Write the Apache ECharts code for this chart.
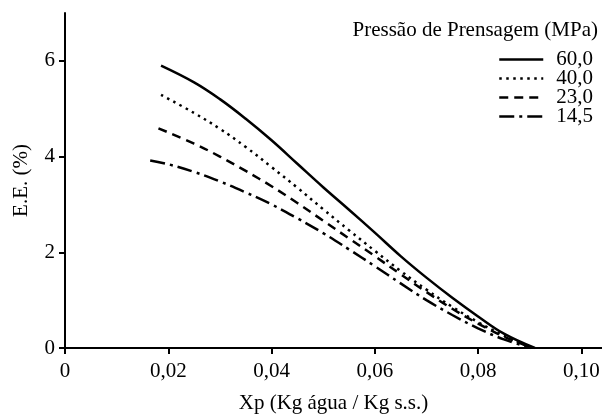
<!DOCTYPE html>
<html>
<head>
<meta charset="utf-8">
<script src="https://cdn.jsdelivr.net/npm/echarts@6/dist/echarts.min.js"></script>
<style>
  html, body { margin: 0; padding: 0; background: #fff; }
  #chart { width: 602px; height: 414px; }
</style>
</head>
<body>
<div id="chart"></div>
<script>
// Pressão de Prensagem series, [Xp, E.E.]
const p60 = [[0.0186, 5.90], [0.025, 5.55], [0.030, 5.20], [0.035, 4.79], [0.040, 4.34],
  [0.045, 3.85], [0.050, 3.36], [0.055, 2.89], [0.060, 2.41], [0.065, 1.92], [0.070, 1.47],
  [0.075, 1.05], [0.080, 0.66], [0.085, 0.30], [0.0910, 0.0]];
const p40 = [[0.0186, 5.29], [0.025, 4.91], [0.030, 4.58], [0.035, 4.20], [0.040, 3.78],
  [0.045, 3.35], [0.050, 2.90], [0.055, 2.46], [0.060, 2.03], [0.065, 1.61], [0.070, 1.22],
  [0.075, 0.86], [0.080, 0.54], [0.085, 0.26], [0.0906, 0.0]];
const p23 = [[0.0181, 4.59], [0.025, 4.27], [0.030, 4.00], [0.035, 3.70], [0.040, 3.38],
  [0.045, 3.03], [0.050, 2.66], [0.055, 2.29], [0.060, 1.92], [0.065, 1.54], [0.070, 1.17],
  [0.075, 0.82], [0.080, 0.51], [0.085, 0.24], [0.0905, 0.0]];
const p14 = [[0.0165, 3.92], [0.020, 3.84], [0.025, 3.68], [0.030, 3.48], [0.035, 3.25],
  [0.040, 3.00], [0.045, 2.71], [0.050, 2.40], [0.055, 2.06], [0.060, 1.71], [0.065, 1.35],
  [0.070, 1.00], [0.075, 0.69], [0.080, 0.41], [0.085, 0.18], [0.0903, 0.0]];

const seriesNames = ["60,0", "40,0", "23,0", "14,5"];
const xTicks = [0, 0.02, 0.04, 0.06, 0.08, 0.10];
const yTicks = [0, 2, 4, 6];

const FONT = "'Liberation Serif', 'Times New Roman', serif";
const INK = "#000";
const FS = 21;

const chart = echarts.init(document.getElementById("chart"));

const lineStyles = [
  { width: 2.5, type: "solid" },
  { width: 2.5, type: [2.5, 4.5] },
  { width: 2.5, type: [9, 6] },
  { width: 2.5, type: [15, 5, 3, 5] },
];

const series = [p60, p40, p23, p14].map((d, i) => ({
  name: seriesNames[i],
  type: "line",
  data: d,
  smooth: 0.4,
  showSymbol: false,
  symbol: "none",
  lineStyle: { color: INK, ...lineStyles[i] },
  itemStyle: { color: INK },
}));

chart.setOption({
  animation: false,
  textStyle: { fontFamily: FONT, color: INK },
  title: {
    text: "Pressão de Prensagem (MPa)",
    right: 4,
    top: 20,
    padding: 0,
    textStyle: { fontFamily: FONT, fontSize: FS, fontWeight: "normal", color: INK },
  },
  legend: {
    orient: "vertical",
    left: 498,
    top: 49,
    padding: 0,
    itemWidth: 44,
    itemHeight: 14,
    itemGap: -2,
    data: seriesNames,
    itemStyle: { opacity: 0 },
    lineStyle: { width: 2.5 },
    textStyle: { fontFamily: FONT, fontSize: FS, color: INK, padding: [0, 0, 0, 8] },
  },
  grid: { left: 65, right: 0, top: 13, bottom: 66, containLabel: false, outerBoundsMode: "none" },
  xAxis: {
    type: "value",
    min: 0,
    max: 0.104,
    interval: 0.02,
    name: "Xp (Kg água / Kg s.s.)",
    nameLocation: "middle",
    nameGap: 45,
    nameTextStyle: { fontFamily: FONT, fontSize: FS, color: INK },
    splitLine: { show: false },
    axisLine: { onZero: false, lineStyle: { color: INK, width: 2 } },
    axisTick: { inside: false, length: 6, lineStyle: { color: INK, width: 2 }, customValues: xTicks },
    axisLabel: {
      margin: 13,
      fontFamily: FONT,
      fontSize: FS,
      color: INK,
      customValues: xTicks,
      formatter: (v) => (v === 0 ? "0" : v.toFixed(2).replace(".", ",")),
    },
  },
  yAxis: {
    type: "value",
    min: 0,
    max: 7,
    interval: 2,
    name: "E.E. (%)",
    nameLocation: "middle",
    nameGap: 33,
    nameTextStyle: { fontFamily: FONT, fontSize: FS, color: INK },
    splitLine: { show: false },
    axisLine: { show: true, lineStyle: { color: INK, width: 2 } },
    axisTick: { show: true, inside: false, length: 6, lineStyle: { color: INK, width: 2 }, customValues: yTicks },
    axisLabel: {
      margin: 10,
      fontFamily: FONT,
      fontSize: FS,
      color: INK,
      customValues: yTicks,
    },
  },
  series,
});
</script>
</body>
</html>
